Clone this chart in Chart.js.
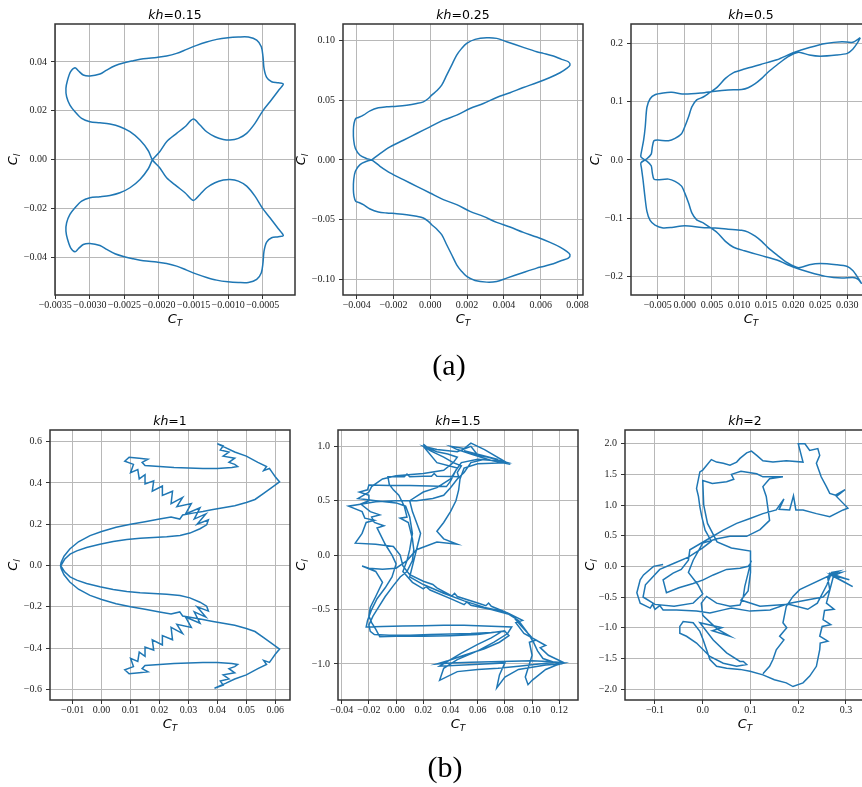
<!DOCTYPE html>
<html>
  <head>
    <meta charset="utf-8" />
    <title>CT - Cl loops</title>
    <script src="https://cdn.jsdelivr.net/npm/chart.js"></script>
    <style>
      html, body { margin: 0; padding: 0; background: #fff; overflow: hidden; width: 862px; height: 787px; }
      canvas { position: absolute; }
      .tag { position: absolute; width: 100px; text-align: center; font-family: 'Liberation Serif', serif; font-size: 30px; line-height: 30px; color: #000; }
    </style>
  </head>
  <body>
    <canvas id="p1"></canvas>
    <canvas id="p2"></canvas>
    <canvas id="p3"></canvas>
    <canvas id="p4"></canvas>
    <canvas id="p5"></canvas>
    <canvas id="p6"></canvas>
    <div class="tag" style="left:399px; top:350px;">(a)</div>
    <div class="tag" style="left:395px; top:752px;">(b)</div>
    <script>
      // kh values shown in the panel titles
      var khValues = ['0.15', '0.25', '0.5', '1', '1.5', '2'];

      // tick values per panel
      var xTicks1 = [-0.0035, -0.003, -0.0025, -0.002, -0.0015, -0.001, -0.0005];
      var yTicks1 = [-0.04, -0.02, 0, 0.02, 0.04];
      var xTicks2 = [-0.004, -0.002, 0, 0.002, 0.004, 0.006, 0.008];
      var yTicks2 = [-0.1, -0.05, 0, 0.05, 0.1];
      var xTicks3 = [-0.005, 0, 0.005, 0.01, 0.015, 0.02, 0.025, 0.03];
      var yTicks3 = [-0.2, -0.1, 0, 0.1, 0.2];
      var xTicks4 = [-0.01, 0, 0.01, 0.02, 0.03, 0.04, 0.05, 0.06];
      var yTicks4 = [-0.6, -0.4, -0.2, 0, 0.2, 0.4, 0.6];
      var xTicks5 = [-0.04, -0.02, 0, 0.02, 0.04, 0.06, 0.08, 0.1, 0.12];
      var yTicks5 = [-1, -0.5, 0, 0.5, 1];
      var xTicks6 = [-0.1, 0, 0.1, 0.2, 0.3];
      var yTicks6 = [-2, -1.5, -1, -0.5, 0, 0.5, 1, 1.5, 2];

      // (C_T, C_l) points
      var loop015 = [
        [-0.002097, 0], [-0.001990, 0.00327], [-0.001890, 0.00736], [-0.001745, 0.01077], [-0.001624, 0.01350],
        [-0.001504, 0.01663], [-0.001407, 0.01418], [-0.001311, 0.01145], [-0.001190, 0.00941], [-0.001070, 0.00832],
        [-0.000973, 0.00804], [-0.000853, 0.00873], [-0.000732, 0.01077], [-0.000612, 0.01486], [-0.000501, 0.01990],
        [-0.000395, 0.02372], [-0.000274, 0.02822], [-0.000202, 0.03095], [-0.000274, 0.03149], [-0.000371, 0.03190],
        [-0.000443, 0.03367], [-0.000481, 0.03735], [-0.000496, 0.04213], [-0.000520, 0.04622], [-0.000587, 0.04894],
        [-0.000708, 0.05017], [-0.000853, 0.05017], [-0.001002, 0.04990], [-0.001166, 0.04922], [-0.001311, 0.04812],
        [-0.001455, 0.04676], [-0.001600, 0.04513], [-0.001745, 0.04349], [-0.001890, 0.04240], [-0.002034, 0.04185],
        [-0.002227, 0.04131], [-0.002372, 0.04049], [-0.002502, 0.03967], [-0.002637, 0.03845], [-0.002757, 0.03667],
        [-0.002854, 0.03504], [-0.002999, 0.03422], [-0.003095, 0.03463], [-0.003167, 0.03640], [-0.003215, 0.03763],
        [-0.003278, 0.03599], [-0.003322, 0.03258], [-0.003346, 0.02917], [-0.003336, 0.02577], [-0.003288, 0.02236],
        [-0.003215, 0.01963], [-0.003119, 0.01690], [-0.002999, 0.01554], [-0.002854, 0.01513], [-0.002709, 0.01459],
        [-0.002565, 0.01350], [-0.002420, 0.01145], [-0.002275, 0.00804], [-0.002155, 0.00368], [-0.002097, 0],
        [-0.001990, -0.00327], [-0.001890, -0.00736], [-0.001745, -0.01077], [-0.001624, -0.01350], [-0.001504, -0.01663],
        [-0.001407, -0.01418], [-0.001311, -0.01145], [-0.001190, -0.00941], [-0.001070, -0.00832], [-0.000973, -0.00804],
        [-0.000853, -0.00873], [-0.000732, -0.01077], [-0.000612, -0.01486], [-0.000501, -0.01990], [-0.000395, -0.02372],
        [-0.000274, -0.02822], [-0.000202, -0.03095], [-0.000274, -0.03149], [-0.000371, -0.03190], [-0.000443, -0.03367],
        [-0.000481, -0.03735], [-0.000496, -0.04213], [-0.000520, -0.04622], [-0.000587, -0.04894], [-0.000708, -0.05017],
        [-0.000853, -0.05017], [-0.001002, -0.04990], [-0.001166, -0.04922], [-0.001311, -0.04812], [-0.001455, -0.04676],
        [-0.001600, -0.04513], [-0.001745, -0.04349], [-0.001890, -0.04240], [-0.002034, -0.04185], [-0.002227, -0.04131],
        [-0.002372, -0.04049], [-0.002502, -0.03967], [-0.002637, -0.03845], [-0.002757, -0.03667], [-0.002854, -0.03504],
        [-0.002999, -0.03422], [-0.003095, -0.03463], [-0.003167, -0.03640], [-0.003215, -0.03763], [-0.003278, -0.03599],
        [-0.003322, -0.03258], [-0.003346, -0.02917], [-0.003336, -0.02577], [-0.003288, -0.02236], [-0.003215, -0.01963],
        [-0.003119, -0.01690], [-0.002999, -0.01554], [-0.002854, -0.01513], [-0.002709, -0.01459], [-0.002565, -0.01350],
        [-0.002420, -0.01145], [-0.002275, -0.00804], [-0.002155, -0.00368], [-0.002097, 0]
      ];

      var loop025 = [
        [-0.003185, 0], [-0.002732, 0.00531], [-0.002188, 0.01089], [-0.001464, 0.01648], [-0.000739, 0.02207],
        [-0.0000145, 0.02765], [0.000710, 0.03324], [0.001435, 0.03743], [0.002159, 0.04302], [0.002884, 0.04721],
        [0.003609, 0.05223], [0.004333, 0.05615], [0.005058, 0.06061], [0.005783, 0.06453], [0.006507, 0.06899],
        [0.007051, 0.07291], [0.007413, 0.07654], [0.007594, 0.07933], [0.007504, 0.08212], [0.007141, 0.08408],
        [0.006688, 0.08687], [0.006145, 0.08911], [0.005783, 0.09050], [0.005058, 0.09413], [0.004152, 0.09888],
        [0.003609, 0.10168], [0.003065, 0.10223], [0.002431, 0.10084], [0.001978, 0.09749], [0.001707, 0.09330],
        [0.001435, 0.08771], [0.001163, 0.07933], [0.000891, 0.07095], [0.000620, 0.06257], [0.000348, 0.05782],
        [0.0000761, 0.05419], [-0.000105, 0.05140], [-0.000377, 0.04860], [-0.000739, 0.04721], [-0.001283, 0.04581],
        [-0.001826, 0.04497], [-0.002370, 0.04441], [-0.002822, 0.04358], [-0.003275, 0.04106], [-0.003638, 0.03743],
        [-0.003909, 0.03547], [-0.004054, 0.03464], [-0.004145, 0.03045], [-0.004181, 0.02486], [-0.004163, 0.01648],
        [-0.004072, 0.00950], [-0.003819, 0.00391], [-0.003457, 0.00112], [-0.003185, 0],
        [-0.002732, -0.00531], [-0.002188, -0.01089], [-0.001464, -0.01648], [-0.000739, -0.02207], [-0.0000145, -0.02765],
        [0.000710, -0.03324], [0.001435, -0.03743], [0.002159, -0.04302], [0.002884, -0.04721], [0.003609, -0.05223],
        [0.004333, -0.05615], [0.005058, -0.06061], [0.005783, -0.06453], [0.006507, -0.06899], [0.007051, -0.07291],
        [0.007413, -0.07654], [0.007594, -0.07933], [0.007504, -0.08212], [0.007141, -0.08408], [0.006688, -0.08687],
        [0.006145, -0.08911], [0.005783, -0.09050], [0.005058, -0.09413], [0.004152, -0.09888], [0.003609, -0.10168],
        [0.003065, -0.10223], [0.002431, -0.10084], [0.001978, -0.09749], [0.001707, -0.09330], [0.001435, -0.08771],
        [0.001163, -0.07933], [0.000891, -0.07095], [0.000620, -0.06257], [0.000348, -0.05782], [0.0000761, -0.05419],
        [-0.000105, -0.05140], [-0.000377, -0.04860], [-0.000739, -0.04721], [-0.001283, -0.04581], [-0.001826, -0.04497],
        [-0.002370, -0.04441], [-0.002822, -0.04358], [-0.003275, -0.04106], [-0.003638, -0.03743], [-0.003909, -0.03547],
        [-0.004054, -0.03464], [-0.004145, -0.03045], [-0.004181, -0.02486], [-0.004163, -0.01648], [-0.004072, -0.00950],
        [-0.003819, -0.00391], [-0.003457, -0.00112], [-0.003185, 0]
      ];

      var loop05 = [
        [0.0324, 0.210], [0.0318, 0.200], [0.0310, 0.190], [0.0300, 0.183], [0.0280, 0.180], [0.0250, 0.178],
        [0.0230, 0.180], [0.0210, 0.185], [0.0190, 0.177], [0.0170, 0.163], [0.0154, 0.151], [0.0142, 0.140],
        [0.0130, 0.131], [0.0117, 0.124], [0.0105, 0.121], [0.0080, 0.120], [0.0056, 0.118], [0.0031, 0.115],
        [0.0000, 0.113], [-0.0024, 0.116], [-0.0040, 0.115], [-0.0055, 0.112], [-0.0064, 0.105], [-0.0070, 0.090],
        [-0.0073, 0.057], [-0.0076, 0.034], [-0.0080, 0.014], [-0.0081, 0.005], [-0.0070, -0.002], [-0.0062, -0.010],
        [-0.0060, -0.022], [-0.0057, -0.033], [-0.0050, -0.034], [-0.0030, -0.033], [-0.0018, -0.037], [-0.0006, -0.045],
        [0.0000, -0.057], [0.0007, -0.074], [0.0013, -0.091], [0.0022, -0.103], [0.0034, -0.108], [0.0045, -0.115],
        [0.0060, -0.125], [0.0075, -0.140], [0.0090, -0.150], [0.0110, -0.156], [0.0140, -0.164], [0.0170, -0.172],
        [0.0200, -0.184], [0.0230, -0.193], [0.0260, -0.200], [0.0290, -0.203], [0.0310, -0.202], [0.0320, -0.205],
        [0.0326, -0.212], [0.0318, -0.200], [0.0310, -0.190], [0.0300, -0.183], [0.0280, -0.180], [0.0250, -0.178],
        [0.0230, -0.180], [0.0210, -0.185], [0.0190, -0.177], [0.0170, -0.163], [0.0154, -0.151], [0.0142, -0.140],
        [0.0130, -0.131], [0.0117, -0.124], [0.0105, -0.121], [0.0080, -0.119], [0.0056, -0.117], [0.0031, -0.116],
        [0.0000, -0.113], [-0.0024, -0.116], [-0.0040, -0.117], [-0.0055, -0.112], [-0.0064, -0.104], [-0.0070, -0.088],
        [-0.0074, -0.060], [-0.0077, -0.035], [-0.0080, -0.014], [-0.0081, -0.005], [-0.0070, 0.002], [-0.0062, 0.010],
        [-0.0060, 0.022], [-0.0057, 0.033], [-0.0050, 0.034], [-0.0030, 0.033], [-0.0018, 0.037], [-0.0006, 0.045],
        [0.0000, 0.057], [0.0007, 0.074], [0.0013, 0.091], [0.0022, 0.103], [0.0034, 0.108], [0.0045, 0.115],
        [0.0060, 0.125], [0.0075, 0.140], [0.0090, 0.150], [0.0110, 0.156], [0.0140, 0.164], [0.0170, 0.172],
        [0.0200, 0.184], [0.0230, 0.193], [0.0260, 0.200], [0.0290, 0.203], [0.0310, 0.202], [0.0324, 0.210]
      ];

      var loop1 = [
        [-0.0140, 0.000], [-0.0127, 0.032], [-0.0109, 0.055], [-0.0086, 0.071], [-0.0052, 0.087], [-0.0006, 0.103],
        [0.0040, 0.116], [0.0087, 0.126], [0.0133, 0.132], [0.0179, 0.136], [0.0225, 0.139], [0.0271, 0.145],
        [0.0305, 0.157], [0.0340, 0.178], [0.0363, 0.197], [0.0369, 0.221], [0.0330, 0.200], [0.0360, 0.250],
        [0.0320, 0.225], [0.0340, 0.280], [0.0290, 0.250], [0.0310, 0.300], [0.0260, 0.285], [0.0280, 0.330],
        [0.0240, 0.300], [0.0245, 0.360], [0.0210, 0.340], [0.0210, 0.385], [0.0175, 0.360], [0.0180, 0.410],
        [0.0150, 0.395], [0.0150, 0.440], [0.0130, 0.420], [0.0125, 0.465], [0.0100, 0.450], [0.0110, 0.490],
        [0.0080, 0.505], [0.0095, 0.525], [0.0130, 0.520], [0.0160, 0.515], [0.0140, 0.500], [0.0150, 0.485],
        [0.0200, 0.480], [0.0250, 0.475], [0.0300, 0.472], [0.0350, 0.470], [0.0400, 0.470], [0.0450, 0.475],
        [0.0470, 0.480], [0.0460, 0.490], [0.0440, 0.500], [0.0460, 0.520], [0.0420, 0.530], [0.0440, 0.550],
        [0.0410, 0.560], [0.0420, 0.580], [0.0400, 0.590], [0.0430, 0.570], [0.0460, 0.550], [0.0500, 0.530],
        [0.0540, 0.500], [0.0570, 0.480], [0.0560, 0.460], [0.0580, 0.470], [0.0590, 0.450], [0.0600, 0.430],
        [0.0615, 0.405], [0.0590, 0.380], [0.0560, 0.350], [0.0530, 0.320], [0.0500, 0.305], [0.0460, 0.290],
        [0.0420, 0.280], [0.0380, 0.270], [0.0350, 0.262], [0.0320, 0.255], [0.0280, 0.245], [0.0270, 0.225],
        [0.0240, 0.235], [0.0200, 0.225], [0.0150, 0.212], [0.0100, 0.200], [0.0050, 0.185], [0.0000, 0.165],
        [-0.0040, 0.145], [-0.0080, 0.115], [-0.0110, 0.080], [-0.0130, 0.045], [-0.0140, 0.015], [-0.0142, 0.000],
        [-0.0127, -0.032], [-0.0109, -0.055], [-0.0086, -0.071], [-0.0052, -0.087], [-0.0006, -0.103],
        [0.0040, -0.116], [0.0087, -0.126], [0.0133, -0.132], [0.0179, -0.136], [0.0225, -0.139], [0.0271, -0.145],
        [0.0305, -0.157], [0.0340, -0.178], [0.0363, -0.197], [0.0369, -0.221], [0.0330, -0.200], [0.0360, -0.250],
        [0.0320, -0.225], [0.0340, -0.280], [0.0290, -0.250], [0.0310, -0.300], [0.0260, -0.285], [0.0280, -0.330],
        [0.0240, -0.300], [0.0245, -0.360], [0.0210, -0.340], [0.0210, -0.385], [0.0175, -0.360], [0.0180, -0.410],
        [0.0150, -0.395], [0.0150, -0.440], [0.0130, -0.420], [0.0125, -0.465], [0.0100, -0.450], [0.0110, -0.490],
        [0.0080, -0.505], [0.0095, -0.525], [0.0130, -0.520], [0.0160, -0.515], [0.0140, -0.500], [0.0150, -0.485],
        [0.0200, -0.480], [0.0250, -0.475], [0.0300, -0.472], [0.0350, -0.470], [0.0400, -0.470], [0.0450, -0.475],
        [0.0470, -0.480], [0.0460, -0.490], [0.0440, -0.500], [0.0460, -0.520], [0.0420, -0.530], [0.0440, -0.550],
        [0.0410, -0.560], [0.0420, -0.580], [0.0390, -0.595], [0.0430, -0.570], [0.0460, -0.550], [0.0500, -0.530],
        [0.0540, -0.500], [0.0570, -0.480], [0.0560, -0.460], [0.0580, -0.470], [0.0590, -0.450], [0.0600, -0.430],
        [0.0615, -0.405], [0.0590, -0.380], [0.0560, -0.350], [0.0530, -0.320], [0.0500, -0.305], [0.0460, -0.290],
        [0.0420, -0.280], [0.0380, -0.270], [0.0350, -0.262], [0.0320, -0.255], [0.0280, -0.245], [0.0270, -0.225],
        [0.0240, -0.235], [0.0200, -0.225], [0.0150, -0.212], [0.0100, -0.200], [0.0050, -0.185], [0.0000, -0.165],
        [-0.0040, -0.145], [-0.0080, -0.115], [-0.0110, -0.080], [-0.0130, -0.045], [-0.0140, -0.015], [-0.0142, 0.000]
      ];

      var loop15 = [
        [0.020, 1.02], [0.024, 0.98], [0.030, 0.95], [0.038, 0.93], [0.045, 0.90], [0.042, 0.85], [0.048, 0.82],
        [0.045, 0.76], [0.046, 0.72], [0.040, 0.723], [0.030, 0.725], [0.028, 0.75], [0.026, 0.725], [0.020, 0.725],
        [0.010, 0.72], [0.008, 0.745], [0.006, 0.721], [0.000, 0.722], [-0.006, 0.72], [-0.005, 0.65], [-0.002, 0.60],
        [0.002, 0.55], [0.006, 0.45], [0.008, 0.35], [0.003, 0.34], [0.009, 0.30], [0.010, 0.25], [0.012, 0.15],
        [0.013, 0.05], [0.012, -0.05], [0.008, -0.15], [0.003, -0.20], [-0.002, -0.28], [-0.008, -0.38], [-0.013, -0.48],
        [-0.017, -0.56], [-0.020, -0.64], [-0.019, -0.70], [-0.016, -0.73], [-0.005, -0.735], [0.010, -0.735],
        [0.025, -0.73], [0.040, -0.725], [0.055, -0.72], [0.070, -0.71], [0.080, -0.70], [0.083, -0.74], [0.076, -0.80],
        [0.065, -0.86], [0.050, -0.92], [0.038, -0.97], [0.030, -1.00], [0.040, -0.99], [0.055, -0.985], [0.070, -0.98],
        [0.085, -0.975], [0.100, -0.97], [0.115, -0.98], [0.124, -0.99], [0.118, -1.01], [0.110, -1.05], [0.100, -1.15],
        [0.097, -1.19], [0.095, -1.12], [0.098, -1.00], [0.100, -0.92], [0.098, -0.80], [0.103, -0.78], [0.094, -0.72],
        [0.088, -0.62], [0.093, -0.60], [0.082, -0.53], [0.070, -0.47], [0.068, -0.44], [0.066, -0.465], [0.060, -0.44],
        [0.045, -0.38], [0.043, -0.35], [0.041, -0.375], [0.030, -0.30], [0.027, -0.27], [0.020, -0.24], [0.010, -0.18],
        [0.005, -0.10], [0.003, 0.00], [-0.002, 0.08], [-0.015, 0.10], [-0.030, 0.11], [-0.025, 0.20], [-0.022, 0.30],
        [-0.016, 0.32], [-0.023, 0.34], [-0.025, 0.40], [-0.035, 0.45], [-0.025, 0.47], [-0.015, 0.49], [0.000, 0.50],
        [0.015, 0.50], [0.027, 0.52], [0.035, 0.55], [0.040, 0.62], [0.045, 0.70], [0.050, 0.76], [0.055, 0.85],
        [0.065, 0.88], [0.075, 0.86], [0.084, 0.835], [0.070, 0.87], [0.055, 0.93], [0.045, 0.97], [0.040, 1.00],
        [0.050, 0.98], [0.055, 1.03], [0.065, 0.97], [0.080, 0.86], [0.060, 0.88], [0.048, 0.85], [0.044, 0.78],
        [0.040, 0.68], [0.037, 0.63], [0.025, 0.635], [0.010, 0.64], [-0.005, 0.64], [-0.020, 0.645], [-0.021, 0.60],
        [-0.027, 0.58], [-0.020, 0.55], [-0.020, 0.50], [-0.026, 0.47], [-0.019, 0.40], [-0.012, 0.37], [-0.018, 0.35],
        [-0.016, 0.30], [-0.009, 0.27], [-0.014, 0.25], [-0.012, 0.20], [-0.008, 0.10], [-0.003, 0.00], [0.000, -0.08],
        [-0.003, -0.20], [-0.008, -0.30], [-0.014, -0.40], [-0.018, -0.50], [-0.021, -0.60], [-0.022, -0.66],
        [-0.010, -0.655], [0.005, -0.65], [0.020, -0.648], [0.035, -0.645], [0.050, -0.645], [0.065, -0.65],
        [0.085, -0.66], [0.082, -0.72], [0.072, -0.80], [0.060, -0.88], [0.045, -0.96], [0.035, -1.04], [0.032, -1.15],
        [0.045, -1.07], [0.060, -1.05], [0.075, -1.04], [0.090, -1.02], [0.105, -1.00], [0.122, -0.98], [0.112, -0.92],
        [0.106, -0.85], [0.110, -0.83], [0.100, -0.76], [0.092, -0.65], [0.085, -0.55], [0.070, -0.50], [0.055, -0.46],
        [0.052, -0.43], [0.050, -0.455], [0.040, -0.40], [0.025, -0.32], [0.022, -0.29], [0.020, -0.31], [0.012, -0.25],
        [0.005, -0.15], [0.008, -0.05], [0.010, 0.05], [0.012, 0.20], [0.010, 0.35], [0.007, 0.45], [0.000, 0.48],
        [-0.015, 0.50], [-0.028, 0.52], [-0.020, 0.58], [-0.018, 0.63], [-0.010, 0.70], [0.000, 0.73], [0.020, 0.75],
        [0.035, 0.78], [0.042, 0.85], [0.035, 0.90], [0.025, 0.96], [0.020, 1.00],
        [0.030, 0.97], [0.045, 0.95], [0.055, 1.00], [0.060, 0.92], [0.075, 0.88], [0.050, 0.96], [0.082, 0.85],
        [0.060, 0.84], [0.050, 0.80], [0.047, 0.70], [0.046, 0.60], [0.044, 0.50], [0.040, 0.40], [0.035, 0.30],
        [0.030, 0.22], [0.035, 0.15], [0.045, 0.10], [0.030, 0.12], [0.015, 0.05], [0.008, -0.05], [0.000, -0.12],
        [-0.010, -0.13], [-0.020, -0.12], [-0.025, -0.10], [-0.015, -0.15], [-0.010, -0.25], [-0.015, -0.38],
        [-0.019, -0.48], [-0.020, -0.56], [-0.018, -0.62], [-0.015, -0.68], [-0.012, -0.75], [0.000, -0.745],
        [0.020, -0.745], [0.040, -0.74], [0.060, -0.73], [0.078, -0.70], [0.070, -0.76], [0.060, -0.82], [0.048, -0.90],
        [0.040, -0.96], [0.032, -1.02], [0.050, -1.01], [0.065, -1.00], [0.080, -0.99], [0.076, -1.10], [0.074, -1.22],
        [0.080, -1.12], [0.090, -1.05], [0.100, -1.03], [0.110, -1.01], [0.120, -1.00], [0.108, -0.95], [0.104, -0.88],
        [0.101, -0.80], [0.096, -0.70], [0.090, -0.60], [0.080, -0.52], [0.065, -0.48], [0.050, -0.42], [0.035, -0.35],
        [0.020, -0.27], [0.010, -0.20], [0.012, -0.10], [0.014, 0.00], [0.016, 0.10], [0.018, 0.20], [0.015, 0.30],
        [0.012, 0.40], [0.010, 0.50], [0.020, 0.58], [0.030, 0.62], [0.040, 0.70], [0.045, 0.80], [0.030, 0.85],
        [0.020, 1.00]
      ];

      var loop2 = [
        [-0.083, 0.03], [-0.103, 0.00], [-0.124, -0.14], [-0.131, -0.22], [-0.138, -0.43], [-0.131, -0.60],
        [-0.110, -0.68], [-0.105, -0.62], [-0.100, -0.70], [-0.090, -0.64], [-0.083, -0.71], [-0.055, -0.71],
        [-0.013, -0.73], [0.015, -0.76], [0.043, -0.71], [0.060, -0.68], [0.099, -0.73], [0.141, -0.71],
        [0.182, -0.60], [0.224, -0.54], [0.252, -0.50], [0.266, -0.38], [0.262, -0.20], [0.266, -0.11],
        [0.307, -0.22], [0.270, -0.14], [0.314, -0.33], [0.272, -0.16], [0.290, -0.10], [0.275, -0.12],
        [0.259, -0.60], [0.275, -0.70], [0.255, -0.72], [0.252, -0.87], [0.268, -0.95], [0.250, -0.98],
        [0.245, -1.14], [0.262, -1.22], [0.246, -1.25], [0.245, -1.36], [0.238, -1.63], [0.224, -1.79],
        [0.210, -1.90], [0.189, -1.96], [0.175, -1.90], [0.150, -1.85], [0.126, -1.77], [0.099, -1.71],
        [0.078, -1.68], [0.050, -1.66], [0.029, -1.63], [0.015, -1.52], [0.008, -1.36], [0.001, -1.20],
        [-0.006, -1.06], [-0.020, -0.92], [-0.041, -0.90], [-0.048, -0.98], [-0.048, -1.09], [-0.034, -1.14],
        [-0.013, -1.25], [0.015, -1.47], [0.043, -1.58], [0.071, -1.63], [0.092, -1.60], [0.085, -1.55],
        [0.078, -1.55], [0.050, -1.41], [0.022, -1.20], [-0.006, -0.92], [0.040, -1.00], [0.020, -1.05],
        [0.057, -1.14], [0.030, -1.02], [0.000, -0.80], [-0.003, -0.60], [0.008, -0.49], [0.029, -0.60],
        [0.057, -0.65], [0.078, -0.63], [0.085, -0.49], [0.088, -0.33], [0.095, -0.11], [0.100, 0.05],
        [0.095, 0.00], [0.078, -0.03], [0.050, -0.05], [0.022, -0.14], [0.001, -0.22], [-0.020, -0.28],
        [-0.050, -0.35], [-0.076, -0.43], [-0.083, -0.22], [-0.062, -0.11], [-0.045, -0.05], [-0.030, 0.10],
        [-0.027, 0.27], [0.008, 0.43], [0.043, 0.59], [0.071, 0.70], [0.099, 0.78], [0.126, 0.86], [0.154, 0.92],
        [0.170, 1.10], [0.160, 0.93], [0.182, 0.92], [0.190, 1.15], [0.195, 0.92], [0.210, 0.92], [0.238, 0.86],
        [0.266, 0.81], [0.294, 0.92], [0.304, 0.95], [0.280, 1.14], [0.298, 1.25], [0.278, 1.16], [0.266, 1.19],
        [0.259, 1.30], [0.248, 1.46], [0.238, 1.68], [0.245, 1.81], [0.241, 1.92], [0.224, 1.89], [0.214, 2.00],
        [0.200, 2.00], [0.210, 1.70], [0.175, 1.72], [0.147, 1.70], [0.126, 1.72], [0.113, 1.81], [0.102, 1.88],
        [0.092, 1.85], [0.078, 1.76], [0.071, 1.70], [0.057, 1.65], [0.043, 1.68], [0.029, 1.70], [0.018, 1.74],
        [0.000, 1.57], [-0.006, 1.54], [-0.013, 1.27], [-0.009, 1.14], [-0.006, 0.97], [-0.002, 0.81], [0.005, 0.59],
        [0.018, 0.41], [0.000, 0.30], [-0.030, 0.15], [-0.060, 0.05], [-0.090, -0.05], [-0.120, -0.30],
        [-0.125, -0.50], [-0.100, -0.62], [-0.060, -0.65], [-0.020, -0.60], [0.000, -0.45], [-0.010, -0.30],
        [-0.030, -0.10], [-0.020, 0.10], [0.000, 0.38], [0.030, 0.45], [0.057, 0.49], [0.092, 0.49], [0.120, 0.60],
        [0.140, 0.75], [0.133, 1.14], [0.126, 1.30], [0.140, 1.43], [0.168, 1.46], [0.154, 1.46], [0.126, 1.46],
        [0.113, 1.51], [0.080, 1.55], [0.060, 1.50], [0.065, 1.42], [0.050, 1.38], [0.020, 1.35], [0.000, 1.40],
        [0.002, 1.00], [0.010, 0.70], [0.030, 0.40], [0.060, 0.30], [0.100, 0.25], [0.100, -0.10], [0.095, -0.40],
        [0.080, -0.55], [0.120, -0.65], [0.180, -0.62], [0.220, -0.70], [0.240, -0.60], [0.260, -0.30],
        [0.270, -0.10], [0.285, -0.08], [0.203, -0.38], [0.189, -0.49], [0.175, -0.65], [0.168, -0.92],
        [0.176, -1.00], [0.161, -1.14], [0.170, -1.20], [0.154, -1.36], [0.147, -1.52], [0.140, -1.63],
        [0.126, -1.75]
      ];

      // panel layout: plot-area left/top in page pixels, size, axis ranges, line smoothing
      var panels = [
        { id: 'p1', kh: khValues[0], pts: loop015, left: 55, top: 24, h: 271, xr: [-0.003504, -0.000033], yr: [-0.0553, 0.0555], xt: xTicks1, yt: yTicks1, xd: 4, yd: 2, gap: 38, smooth: 0.3 },
        { id: 'p2', kh: khValues[1], pts: loop025, left: 343, top: 24, h: 271, xr: [-0.004745, 0.0083], yr: [-0.113, 0.1137], xt: xTicks2, yt: yTicks2, xd: 3, yd: 2, gap: 38, smooth: 0.3 },
        { id: 'p3', kh: khValues[2], pts: loop05, left: 631, top: 24, h: 271, xr: [-0.00993, 0.03437], yr: [-0.232, 0.2334], xt: xTicks3, yt: yTicks3, xd: 3, yd: 1, gap: 32, smooth: 0.25 },
        { id: 'p4', kh: khValues[3], pts: loop1, left: 50, top: 430, h: 270, xr: [-0.01784, 0.0651], yr: [-0.6519, 0.6567], xt: xTicks4, yt: yTicks4, xd: 2, yd: 1, gap: 33, smooth: 0 },
        { id: 'p5', kh: khValues[4], pts: loop15, left: 338, top: 430, h: 270, xr: [-0.04272, 0.13375], yr: [-1.3308, 1.1498], xt: xTicks5, yt: yTicks5, xd: 2, yd: 1, gap: 33, smooth: 0 },
        { id: 'p6', kh: khValues[5], pts: loop2, left: 625, top: 430, h: 270, xr: [-0.1628, 0.3398], yr: [-2.1793, 2.2233], xt: xTicks6, yt: yTicks6, xd: 1, yd: 1, gap: 31, smooth: 0 }
      ];

      function fmt(v, d) {
        var s = Number(v).toFixed(d);
        if (Math.abs(v) < 1e-12) s = (0).toFixed(d);
        return s.replace('-', '\u2212');
      }

      // frame, title and axis labels
      var decorations = {
        id: 'panel',
        afterDraw: function (chart, args, opts) {
          var a = chart.chartArea;
          var ctx = chart.ctx;
          ctx.save();
          ctx.strokeStyle = '#333';
          ctx.lineWidth = 1.5;
          ctx.strokeRect(a.left, a.top, a.right - a.left, a.bottom - a.top);

          ctx.fillStyle = '#000';
          ctx.textBaseline = 'alphabetic';
          ctx.textAlign = 'left';
          var cx = (a.left + a.right) / 2;

          ctx.font = 'italic 12.5px "DejaVu Sans"';
          var w1 = ctx.measureText('kh').width;
          ctx.font = '12.5px "DejaVu Sans"';
          var w2 = ctx.measureText('=' + opts.kh).width;
          var x0 = cx - (w1 + w2) / 2;
          ctx.font = 'italic 12.5px "DejaVu Sans"';
          ctx.fillText('kh', x0, a.top - 5.5);
          ctx.font = '12.5px "DejaVu Sans"';
          ctx.fillText('=' + opts.kh, x0 + w1, a.top - 5.5);

          drawSub(ctx, 'T', cx, a.bottom + 27.5);

          ctx.translate(a.left - opts.gap, (a.top + a.bottom) / 2);
          ctx.rotate(-Math.PI / 2);
          drawSub(ctx, 'l', 0, 0);
          ctx.restore();
        }
      };

      function drawSub(ctx, sub, cx, base) {
        ctx.font = 'italic 13px "DejaVu Sans"';
        var wc = ctx.measureText('C').width;
        ctx.font = 'italic 9px "DejaVu Sans"';
        var ws = ctx.measureText(sub).width;
        var x0 = cx - (wc + ws) / 2;
        ctx.font = 'italic 13px "DejaVu Sans"';
        ctx.fillText('C', x0, base);
        ctx.font = 'italic 9px "DejaVu Sans"';
        ctx.fillText(sub, x0 + wc, base + 3);
      }

      function axisOptions(range, ticks, dec, isX) {
        return {
          type: 'linear',
          min: range[0],
          max: range[1],
          afterBuildTicks: function (scale) {
            scale.ticks = ticks.map(function (v) { return { value: v }; });
          },
          afterFit: function (scale) {
            if (isX) scale.height = 40;
            else scale.width = 52;
          },
          ticks: {
            autoSkip: false,
            maxRotation: 0,
            minRotation: 0,
            padding: isX ? 0 : 4,
            color: '#222',
            font: { family: 'Liberation Serif', size: 10 },
            callback: function (v) { return fmt(v, dec); }
          },
          grid: { color: '#b8b8b8', lineWidth: 1, tickLength: 4, tickColor: '#333', drawTicks: true },
          border: { display: false }
        };
      }

      panels.forEach(function (p) {
        var canvas = document.getElementById(p.id);
        canvas.width = 52 + 240 + 14;
        canvas.height = 24 + p.h + 44;
        canvas.style.left = (p.left - 52) + 'px';
        canvas.style.top = (p.top - 24) + 'px';

        new Chart(canvas.getContext('2d'), {
          type: 'scatter',
          data: {
            datasets: [{
              data: p.pts.map(function (q) { return { x: q[0], y: q[1] }; }),
              showLine: true,
              borderColor: '#1f77b4',
              borderWidth: 1.5,
              pointRadius: 0,
              tension: p.smooth
            }]
          },
          options: {
            responsive: false,
            animation: false,
            layout: { padding: { left: 0, top: 24, right: 14, bottom: 4 } },
            plugins: {
              legend: { display: false },
              tooltip: { enabled: false },
              panel: { kh: p.kh, gap: p.gap }
            },
            scales: {
              x: axisOptions(p.xr, p.xt, p.xd, true),
              y: axisOptions(p.yr, p.yt, p.yd, false)
            }
          },
          plugins: [decorations]
        });
      });
    </script>
  </body>
</html>
